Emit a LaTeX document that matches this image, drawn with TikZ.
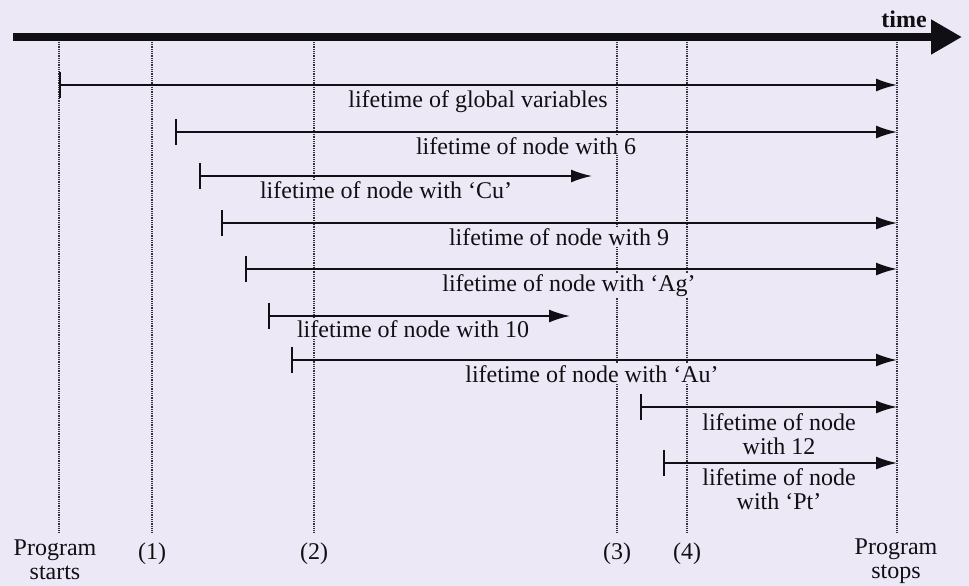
\documentclass[tikz,border=0pt]{standalone}
\usepackage{fontspec}
\setmainfont{Liberation Serif}
\usetikzlibrary{arrows.meta}
\definecolor{bg}{RGB}{236,232,245}
\definecolor{ink}{RGB}{15,15,20}
\definecolor{dotc}{RGB}{50,50,60}
\begin{document}
\begin{tikzpicture}[x=1pt,y=-1pt,
  lbl/.style={font=\fontsize{24}{24}\selectfont, text=ink, fill=bg, inner sep=1pt, anchor=base, align=center},
  life/.style={draw=ink, line width=1.8pt, arrows={Bar[width=26pt,line width=1.8pt]-Latex[length=21pt,width=13pt]}},
  timeline/.style={draw=ink, line width=8pt, arrows={-Triangle[length=31pt,width=33pt]}},
  guide/.style={draw=dotc, line width=1.1pt, dash pattern=on 1pt off 0.8pt}]
\fill[bg] (0,0) rectangle (969,586);
\useasboundingbox (0,0) rectangle (969,586);
% guide lines
\foreach \n/\x in {v0/59,v1/152,v2/314,v3/617,v4/687,v5/897}{
  \coordinate (\n t) at (\x,42);
  \coordinate (\n b) at (\x,532);
  \draw[guide] (\n t) -- (\n b);
}
% time axis
\coordinate (ts) at (13,37);
\coordinate (te) at (962,37);
\draw[timeline] (ts) -- (te);
\node[lbl, fill=none, font=\fontsize{24}{24}\selectfont\bfseries] (time) at (904,28) {time};
% lifetimes
\foreach \n/\xs/\y/\xe in {g/59/85/897, n6/175/132/897, cu/199/176/592, n9/221/223/897,
  ag/245/269/897, n10/268/316/570, au/291/360/897, n12/640/407/897, pt/663/463/897}{
  \coordinate (\n s) at (\xs,\y);
  \coordinate (\n e) at (\xe,\y);
  \draw[life] (\n s) -- (\n e);
}
\node[lbl] (lg) at (478,107) {lifetime of global variables};
\node[lbl] (l6) at (526,154) {lifetime of node with 6};
\node[lbl] (lcu) at (386,198) {lifetime of node with ‘Cu’};
\node[lbl] (l9) at (559,245) {lifetime of node with 9};
\node[lbl] (lag) at (569,291) {lifetime of node with ‘Ag’};
\node[lbl] (l10) at (413,337) {lifetime of node with 10};
\node[lbl] (lau) at (592,382) {lifetime of node with ‘Au’};
\node[lbl] (l12) at (779,454) {lifetime of node\\with 12};
\node[lbl] (lpt) at (779,509) {lifetime of node\\with ‘Pt’};
% bottom labels
\node[lbl] (p0) at (55,579) {Program\\starts};
\node[lbl] (p1) at (152,559) {(1)};
\node[lbl] (p2) at (314,559) {(2)};
\node[lbl] (p3) at (617,559) {(3)};
\node[lbl] (p4) at (687,559) {(4)};
\node[lbl] (p5) at (896,578) {Program\\stops};
\end{tikzpicture}
\end{document}
